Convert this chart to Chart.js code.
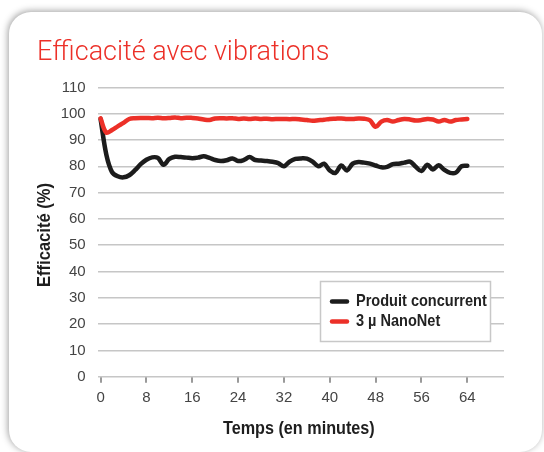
<!DOCTYPE html>
<html>
<head>
<meta charset="utf-8">
<script src="https://cdn.jsdelivr.net/npm/chart.js@4.4.1/dist/chart.umd.min.js"></script>
<style>
html,body{margin:0;padding:0;background:#fff;width:544px;height:452px;overflow:hidden;}
.card{position:absolute;left:9px;top:12px;width:533px;height:440px;border-radius:22px;background:#fff;box-shadow:-1px -1px 7px rgba(0,0,0,0.38);}
#c{position:absolute;left:0;top:0;}
</style>
</head>
<body>
<div class="card"></div>
<canvas id="c" width="544" height="452"></canvas>
<script>
const chartTitle = "Efficacité avec vibrations";
const xAxisTitle = "Temps (en minutes)";
const yAxisTitle = "Efficacité (%)";
const seriesNames = ["Produit concurrent", "3 µ NanoNet"];
const minutes = [0,1,2,3,4,5,6,7,8,9,10,11,12,13,14,15,16,17,18,19,20,21,22,23,24,25,26,27,28,29,30,31,32,33,34,35,36,37,38,39,40,41,42,43,44,45,46,47,48,49,50,51,52,53,54,55,56,57,58,59,60,61,62,63,64];
const produitConcurrent = [98,84.5,77.8,76.2,75.8,76.6,78.5,80.8,82.5,83.4,83.2,80.6,82.8,83.6,83.5,83.3,83.1,83.3,83.8,83.2,82.4,82,82.3,83,82,82.4,83.5,82.4,82.2,82,81.7,81.2,80,81.8,82.8,83,82.9,81.8,80,81,78.4,77.5,80.3,78.4,81,81.6,81.4,81,80.3,79.6,79.8,80.8,81,81.4,81.8,79.8,78.2,80.6,78.8,80.4,78.6,77.5,77.6,80,80.2];
const nanoNet = [98.2,92.8,93.8,95.2,96.5,98,98.3,98.4,98.4,98.3,98.5,98.3,98.4,98.6,98.3,98.5,98.4,98.2,97.8,97.6,98.2,98.3,98.2,98.3,98,98.2,98,98.2,98,98.1,97.9,98,98,97.9,98,97.8,97.6,97.3,97.5,97.7,98,98.1,98.2,98,98,98.2,98.1,97.5,95,97,97.6,97,97.6,98,97.8,97.4,97.6,98,97.8,97,97.6,97,97.6,97.8,98];
const xTicks = [0,8,16,24,32,40,48,56,64];
const yTicks = [0,10,20,30,40,50,60,70,80,90,100,110];

const BLACK = '#1c1c1c';
const RED = '#ec3028';
const GRID = '#c6c6c6';
const BOLD_FAMILY = '"Liberation Sans", Arial, sans-serif';

const toPoints = (xs, ys) => xs.map((x, i) => ({x: x, y: ys[i]}));

function condensedText(ctx, text, x, y, size, squeeze, align, rotate) {
  ctx.save();
  ctx.translate(x, y);
  if (rotate) ctx.rotate(-Math.PI / 2);
  ctx.scale(squeeze, 1);
  ctx.font = 'bold ' + size + 'px ' + BOLD_FAMILY;
  ctx.textAlign = align;
  ctx.textBaseline = 'middle';
  ctx.fillText(text, 0, 0);
  ctx.restore();
}

const titleAndLegend = {
  id: 'titleAndLegend',
  afterDraw(chart) {
    const ctx = chart.ctx;
    const ca = chart.chartArea;
    ctx.save();
    ctx.fillStyle = RED;
    ctx.font = '300 27px Roboto, "Liberation Sans", sans-serif';
    ctx.textAlign = 'left';
    ctx.textBaseline = 'alphabetic';
    ctx.fillText(chartTitle, 37, 60);

    // axis titles
    ctx.fillStyle = '#1e1e1e';
    condensedText(ctx, xAxisTitle, (ca.left + ca.right) / 2 - 2, 429.5, 18, 0.9, 'center', false);
    condensedText(ctx, yAxisTitle, 45.5, 235, 18, 0.92, 'center', true);

    // legend box
    const bx = 320.5, by = 281.5, bw = 170, bh = 60;
    ctx.fillStyle = '#fff';
    ctx.fillRect(bx, by, bw, bh);
    ctx.strokeStyle = '#c8c8c8';
    ctx.lineWidth = 1.5;
    ctx.strokeRect(bx, by, bw, bh);
    const rows = [301.5, 321.5];
    chart.data.datasets.forEach((ds, i) => {
      const y = rows[i];
      ctx.strokeStyle = ds.borderColor;
      ctx.lineWidth = 4.5;
      ctx.lineCap = 'round';
      ctx.beginPath();
      ctx.moveTo(332, y);
      ctx.lineTo(347, y);
      ctx.stroke();
      ctx.fillStyle = '#222';
      condensedText(ctx, ds.label, 356, y, 17, 0.855, 'left', false);
    });
    ctx.restore();
  }
};

new Chart(document.getElementById('c'), {
  type: 'line',
  data: {
    datasets: [
      {label: seriesNames[0], data: toPoints(minutes, produitConcurrent), borderColor: BLACK, backgroundColor: BLACK, borderWidth: 4.5, pointRadius: 0, tension: 0.35, order: 1, borderJoinStyle: 'round', borderCapStyle: 'round'},
      {label: seriesNames[1], data: toPoints(minutes, nanoNet), borderColor: RED, backgroundColor: RED, borderWidth: 4.5, pointRadius: 0, tension: 0.35, order: 0, borderJoinStyle: 'round', borderCapStyle: 'round'}
    ]
  },
  options: {
    responsive: false,
    animation: false,
    events: [],
    layout: {padding: {left: 30, right: 40, top: 87.4, bottom: 0}},
    plugins: {legend: {display: false}, title: {display: false}, tooltip: {enabled: false}},
    scales: {
      x: {
        type: 'linear',
        min: -0.5,
        max: 70.4,
        afterBuildTicks: (s) => { s.ticks = xTicks.map(v => ({value: v})); },
        afterFit: (s) => { s.height = 452 - 376.7; },
        grid: {drawOnChartArea: false, drawTicks: true, tickLength: 6, color: '#9a9a9a', lineWidth: 2},
        border: {display: false},
        ticks: {color: '#444', font: {size: 15, family: '"Liberation Sans", Arial, sans-serif'}, padding: 6, maxRotation: 0, autoSkip: false},
        title: {display: false}
      },
      y: {
        type: 'linear',
        min: 0,
        max: 110,
        afterBuildTicks: (s) => { s.ticks = yTicks.map(v => ({value: v})); },
        afterFit: (s) => { s.width = 97.7 - 30; },
        grid: {drawTicks: false, color: GRID, lineWidth: 1.5},
        border: {display: false},
        ticks: {color: '#444', font: {size: 15, family: '"Liberation Sans", Arial, sans-serif'}, padding: 12},
        title: {display: false}
      }
    }
  },
  plugins: [titleAndLegend]
});
</script>
</body>
</html>
